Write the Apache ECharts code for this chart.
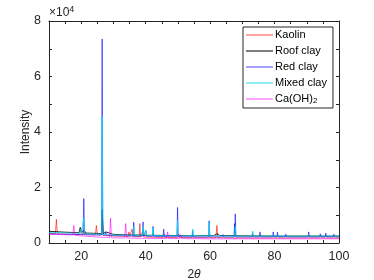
<!DOCTYPE html>
<html>
<head>
<meta charset="utf-8">
<script src="https://cdn.jsdelivr.net/npm/echarts@6/dist/echarts.min.js"></script>
<style>html,body{margin:0;padding:0;background:#fff;}#c{width:374px;height:280px;}</style>
</head>
<body>
<div id="c"></div>
<script>
// ---- data: [2theta, intensity] ----
const seriesNames = ['Kaolin', 'Roof clay', 'Red clay', 'Mixed clay', 'Ca(OH)2'];
const xTicks = [20, 40, 60, 80, 100];
const yTicks = [0, 2, 4, 6, 8];

const kaolin = [
  [10,3400],[12.0,3350],[12.3,8500],[12.6,3300],[15,3200],[19.6,3100],[19.9,5200],[20.2,3200],
  [21.0,3100],[21.2,4200],[21.5,3000],[24.4,2900],[24.7,6300],[25.0,2900],[26.3,2900],[26.5,11500],
  [26.8,2800],[30,2500],[34.6,2400],[34.8,4000],[35.0,2400],[35.6,2400],[35.8,5000],[36.0,2300],
  [38.0,2300],[38.2,7000],[38.4,2200],[39.0,2200],[39.2,4500],[39.4,2200],[42,2100],[45.4,2000],
  [45.6,3000],[45.8,2000],[50,2000],[50.3,3300],[50.5,2000],[55,1900],[61.8,1900],[62.1,6300],
  [62.4,1900],[70,1800],[80,1800],[90,1800],[100,1800]
];
const roofClay = [
  [10,4200],[15,3900],[19.3,3700],[19.7,5600],[20.1,3700],[20.6,3600],[20.8,4500],[21.0,3600],
  [26.3,3400],[26.5,12000],[26.8,3300],[27.3,3400],[27.6,4000],[27.9,3300],[30,3100],[35,2900],
  [40,2800],[45,2750],[50,2700],[55,2600],[61.2,2700],[62.1,3300],[63.0,2700],[70,2600],[80,2500],
  [90,2500],[100,2500]
];
const redClay = [
  [10,3300],[17,3100],[20.6,3000],[20.8,16000],[21.0,3000],[26.3,2900],[26.5,73500],[26.7,2900],
  [27.4,2900],[27.6,3900],[27.8,2800],[30,2700],[36.1,2500],[36.3,7500],[36.5,2500],[39.0,2500],
  [39.2,7600],[39.4,2500],[39.9,2400],[40.1,4500],[40.3,2400],[42.1,2400],[42.3,6000],[42.5,2400],
  [45.4,2300],[45.6,5000],[45.8,2300],[49.7,2300],[49.9,12800],[50.1,2300],[54.4,2200],[54.6,4500],
  [54.8,2200],[59.5,2200],[59.7,8000],[59.9,2200],[63.8,2200],[64.0,3000],[64.2,2200],[67.4,2200],
  [67.6,7000],[67.7,2400],[67.8,10500],[68.0,2200],[73.0,2200],[73.2,3800],[73.4,2200],[75.3,2200],
  [75.5,4000],[75.7,2200],[79.4,2200],[79.6,4000],[79.8,2200],[80.7,2200],[80.9,3900],[81.1,2200],
  [83.3,2200],[83.5,3200],[83.7,2200],[90.4,2200],[90.6,4000],[90.8,2200],[94.0,2200],[94.2,3300],
  [94.4,2200],[95.7,2200],[95.9,3600],[96.1,2200],[98.2,2200],[98.4,3200],[98.6,2200],[100,2200]
];
const mixedClay = [
  [10,3800],[15,3600],[19.5,3500],[19.8,5000],[20.1,3400],[20.6,3400],[20.8,9000],[21.0,3300],
  [26.3,3200],[26.5,45600],[26.7,3100],[30,2900],[36.1,2800],[36.3,6000],[36.5,2800],[39.0,2800],
  [39.2,6200],[39.4,2800],[39.9,2700],[40.1,4500],[40.3,2700],[42.1,2700],[42.3,5500],[42.5,2700],
  [49.7,2600],[49.9,8000],[50.1,2600],[54.4,2600],[54.6,5000],[54.8,2600],[59.5,2600],[59.7,7500],
  [59.9,2600],[67.6,2500],[67.8,6000],[68.0,2500],[73.0,2500],[73.2,4300],[73.4,2500],[80,2500],
  [90,2500],[100,2500]
];
const caOH2 = [
  [10,3100],[15,3000],[17.4,2900],[17.7,6300],[18.0,2800],[22,2400],[26,2100],[28.8,2000],
  [29.1,9000],[29.4,1900],[33.5,1800],[33.8,7000],[34.1,1800],[40,1700],[46.5,1600],[46.8,4000],
  [47.1,1600],[50.5,1600],[50.8,3000],[51.1,1600],[60,1500],[70,1500],[80,1500],[90,1500],[100,1500]
];

const allData = [kaolin, roofClay, redClay, mixedClay, caOH2];
const colors = ['rgba(255,0,0,0.6)', 'rgba(0,0,0,0.85)', 'rgba(0,0,255,0.6)', 'rgba(0,220,240,0.75)', 'rgba(255,0,255,0.6)'];

const axColor = '#262626';
const font = 'Liberation Sans, Arial, Helvetica, sans-serif';

const chart = echarts.init(document.getElementById('c'), null, {renderer: 'canvas'});
const series = seriesNames.map((n, i) => ({
  name: n, type: 'line', data: allData[i], xAxisIndex: 0, yAxisIndex: 0,
  symbol: 'none', showSymbol: false, animation: false,
  lineStyle: {color: colors[i], width: 1}, itemStyle: {color: colors[i]}
}));

chart.setOption({
  animation: false,
  grid: {left: 49, right: 35, top: 21, bottom: 37, containLabel: false, outerBoundsMode: 'none'},
  textStyle: {fontFamily: font},
  xAxis: [{
    type: 'value', min: 10, max: 100, interval: 5, position: 'bottom',
    axisLine: {onZero: false, lineStyle: {color: axColor, width: 1}},
    axisTick: {inside: true, length: 3, lineStyle: {color: axColor}},
    axisLabel: {color: axColor, fontSize: 12.5, fontFamily: font, margin: 7,
      formatter: v => xTicks.indexOf(v) >= 0 ? String(v) : ''},
    splitLine: {show: false},
    name: '2{i|θ}', nameLocation: 'middle', nameGap: 26, nameMoveOverlap: false,
    nameTextStyle: {color: axColor, fontSize: 12, fontFamily: font, rich: {i: {fontStyle: 'italic', fontSize: 12, fontFamily: font, color: axColor}}}
  }, {
    type: 'value', min: 10, max: 100, interval: 5, position: 'top',
    axisLine: {onZero: false, lineStyle: {color: axColor, width: 1}},
    axisTick: {inside: true, length: 3, lineStyle: {color: axColor}},
    axisLabel: {show: false}, splitLine: {show: false}
  }],
  yAxis: [{
    type: 'value', min: 0, max: 80000, interval: 10000, position: 'left',
    axisLine: {show: true, onZero: false, lineStyle: {color: axColor, width: 1}},
    axisTick: {show: true, inside: true, length: 3, lineStyle: {color: axColor}},
    axisLabel: {color: axColor, fontSize: 12.5, fontFamily: font, margin: 8,
      formatter: v => yTicks.indexOf(v / 10000) >= 0 ? String(v / 10000) : ''},
    splitLine: {show: false},
    name: 'Intensity', nameLocation: 'middle', nameGap: 17, nameRotate: 90, nameMoveOverlap: false,
    nameTextStyle: {color: axColor, fontSize: 12, fontFamily: font}
  }, {
    type: 'value', min: 0, max: 80000, interval: 10000, position: 'right',
    axisLine: {show: true, onZero: false, lineStyle: {color: axColor, width: 1}},
    axisTick: {show: true, inside: true, length: 3, lineStyle: {color: axColor}},
    axisLabel: {show: false}, splitLine: {show: false}
  }],
  legend: {
    orient: 'vertical', left: 243, top: 27,
    backgroundColor: '#fff', borderColor: axColor, borderWidth: 1,
    padding: [2, 6, 3, 3], itemGap: 4, itemWidth: 27, itemHeight: 1.2,
    icon: 'rect',
    data: seriesNames,
    formatter: n => n === 'Ca(OH)2' ? 'Ca(OH){s|2}' : n,
    textStyle: {color: '#000', fontSize: 11, fontFamily: font, padding: [0, 0, 0, -3], lineHeight: 12,
      rich: {s: {fontSize: 8, fontFamily: font, color: '#000', verticalAlign: 'bottom', padding: [6, 0, 0, 0]}}}
  },
  graphic: [{
    type: 'text', left: 49, top: 5,
    style: {text: '×10{e|4}', fill: axColor, fontSize: 12, fontFamily: font,
      rich: {e: {fontSize: 9, fontFamily: font, fill: axColor, verticalAlign: 'top', padding: [0, 0, 6, 0]}}}
  }],
  series: series
});
</script>
</body>
</html>
